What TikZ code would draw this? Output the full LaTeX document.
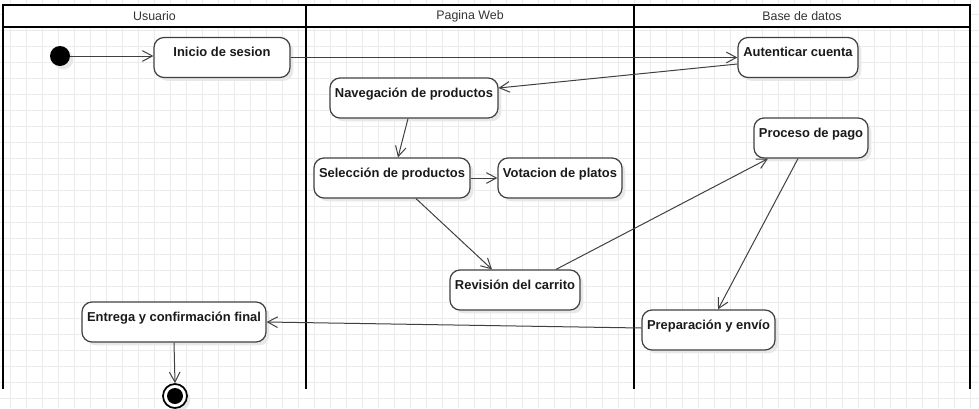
\documentclass[tikz,border=0pt]{standalone}
\usepackage{fontspec}
\setmainfont{Liberation Sans}
\usetikzlibrary{arrows.meta,calc,shadows}
\definecolor{gridc}{HTML}{EBEBEB}
\definecolor{edgec}{HTML}{404040}
\definecolor{textc}{HTML}{1A1A1A}
\definecolor{headc}{HTML}{333333}
\begin{document}
\begin{tikzpicture}[x=0.75pt,y=-0.75pt,
  shad/.style={drop shadow={shadow xshift=2.5pt,shadow yshift=-2.5pt,fill=black!9,opacity=1}},
  box/.style={draw=edgec,line width=0.9pt,rounded corners=7.5pt,fill=white,
    inner xsep=0pt,inner ysep=0pt,text height=14.25pt,text depth=15.75pt,
    minimum height=30pt,minimum width=#1*0.75pt,
    font=\bfseries\fontsize{9.7}{11}\selectfont,text=textc,shad},
  flow/.style={draw=edgec,line width=0.75pt,-{Straight Barb[length=7.5pt,width=8pt]}},
  lane/.style={line width=1.6pt,draw=black},
  head/.style={font=\fontsize{9.3}{11}\selectfont,text=headc,inner sep=0pt}
]
\useasboundingbox (0,0) rectangle (979,408);
\clip (0,0) rectangle (979,408);
% grid
\foreach \gx in {10,26,...,979} \draw[gridc,line width=0.75pt] (\gx,0) -- (\gx,408);
\foreach \gy in {14,30,...,408} \draw[gridc,line width=0.75pt] (0,\gy) -- (979,\gy);
% header
\fill[white] (3,5) rectangle (970,27);
\draw[lane] (2.2,5) -- (970.8,5);
\draw[lane] (3,27) -- (970,27);
\foreach \lx in {3,306,634,970} \draw[lane] (\lx,5) -- (\lx,389);
\node[head] (hu) at (154.5,16) {Usuario};
\node[head] (hp) at (470,16) {Pagina Web};
\node[head] (hb) at (802,16) {Base de datos};
% nodes
\node[circle,fill=black,minimum size=15pt,inner sep=0pt,shad] (st) at (60,56) {};
\node[box=136] (ini) at (222,57.5) {Inicio de sesion};
\node[box=120] (aut) at (798,57.5) {Autenticar cuenta};
\node[box=168] (nav) at (414,98) {Navegación de productos};
\node[box=156] (sel) at (392,178) {Selección de productos};
\node[box=124] (vot) at (560,178) {Votacion de platos};
\node[box=130] (rev) at (515,290) {Revisión del carrito};
\node[box=114] (pag) at (811,138) {Proceso de pago};
\node[box=133] (pre) at (708.5,330) {Preparación y envío};
\node[box=184] (ent) at (174,322) {Entrega y confirmación final};
\node[circle,draw=black,line width=1.3pt,fill=white,minimum size=18pt,inner sep=0pt,shad] (en) at (175,396) {};
\fill[black] (en.center) circle[radius=6pt];
% connectors
\draw[flow] (st) -- (ini.west |- st);
\draw[flow] (ini) -- (aut);
\draw[flow] ($(aut.west)+(0,6.5)$) -- ($(nav.east)+(0,-10)$);
\draw[flow] ($(nav.south)+(-6,0)$) -- ($(sel.north)+(6,0)$);
\draw[flow] (sel) -- (vot);
\draw[flow] ($(sel.south)+(24,0)$) -- ($(rev.north)+(-23,0)$);
\draw[flow] ($(rev.north)+(41,0)$) -- ($(pag.south)+(-43,0)$);
\draw[flow] ($(pag.south)+(-13,0)$) -- ($(pre.north)+(9.5,0)$);
\draw[flow] ($(pre.west)+(0,-2)$) -- (ent.east);
\draw[flow] (ent.south) -- (en.north);
\end{tikzpicture}
\end{document}
